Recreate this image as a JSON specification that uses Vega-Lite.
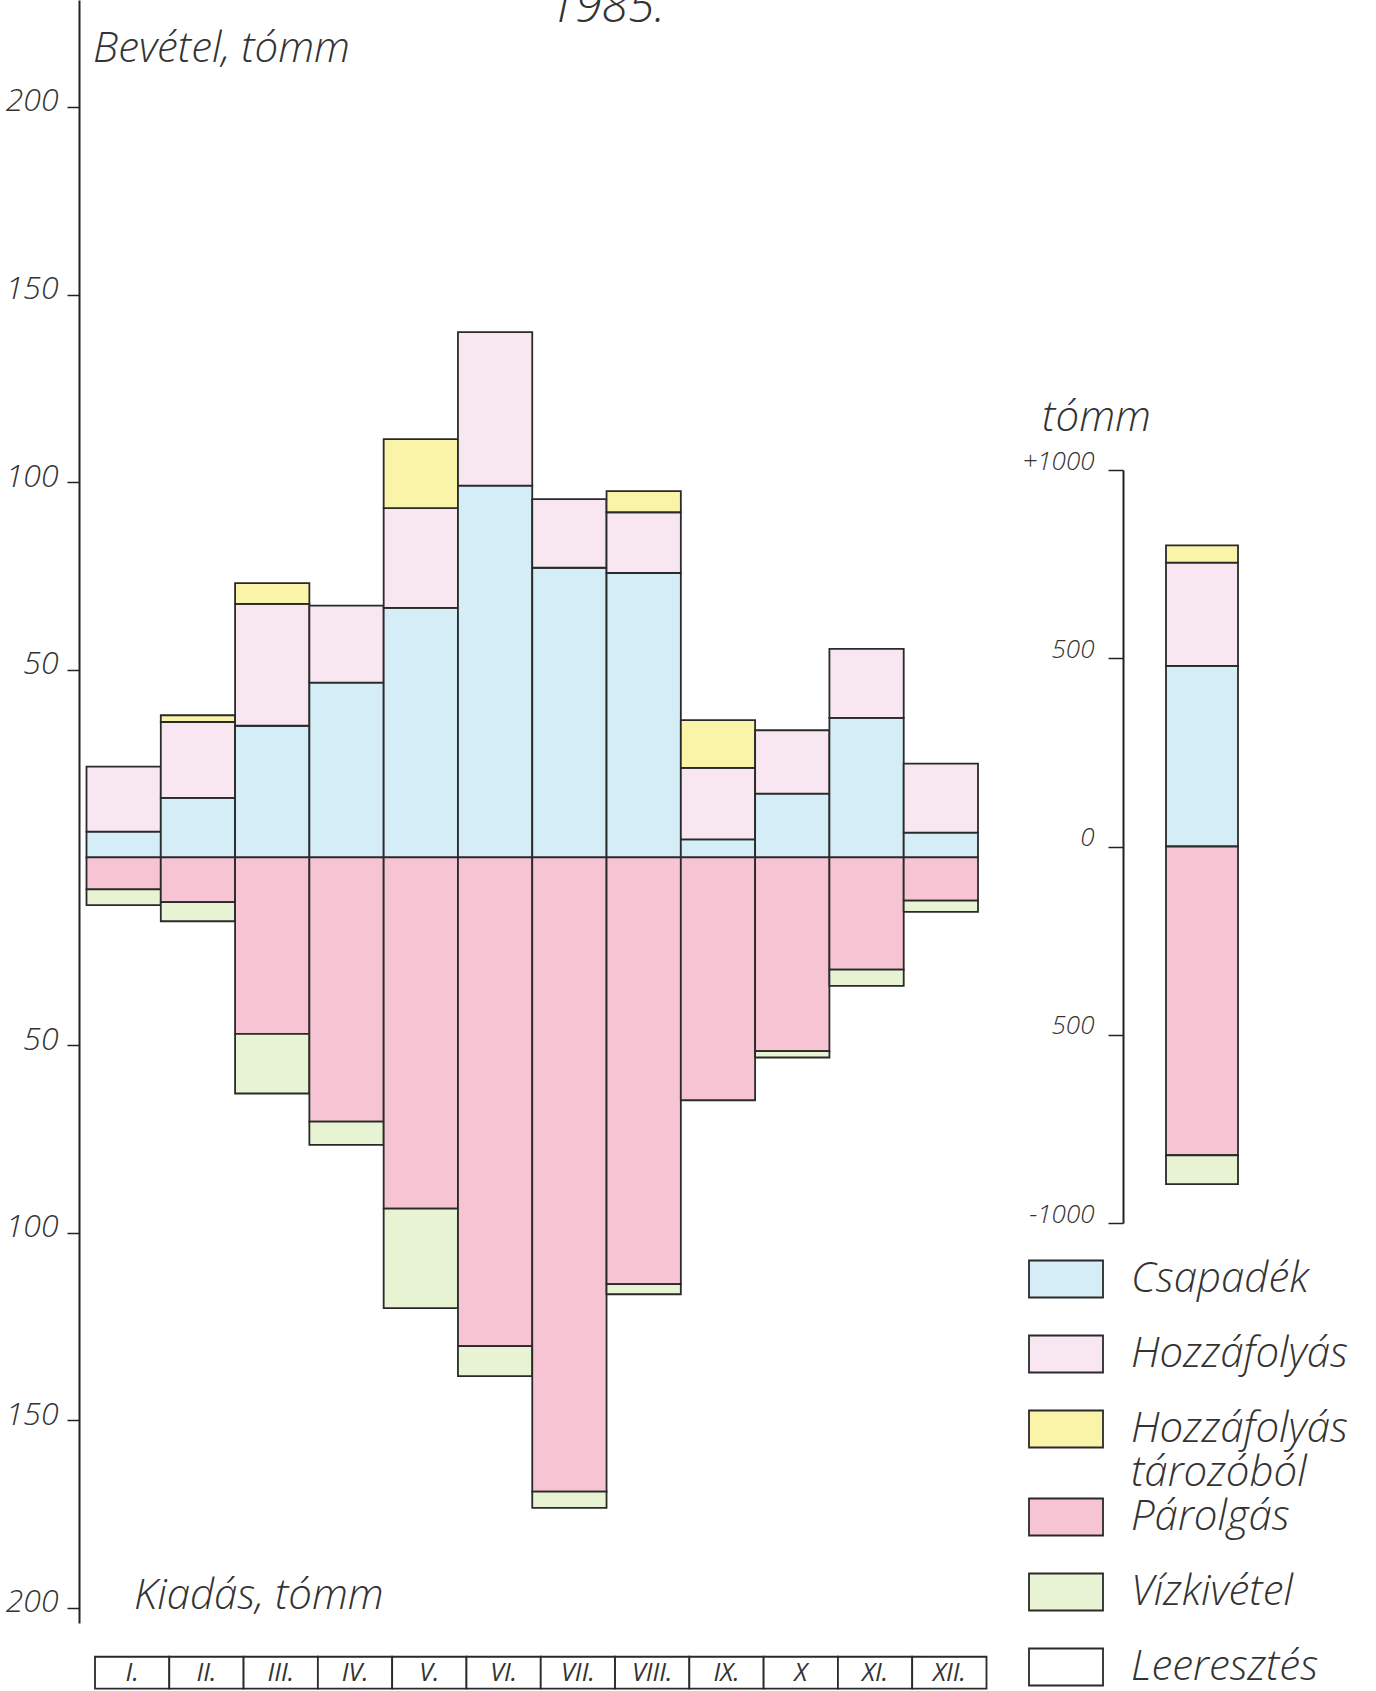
{
  "$schema": "https://vega.github.io/schema/vega-lite/v6.json",
  "width": 1297,
  "height": 1691,
  "autosize": {"type": "none"},
  "padding": {"left": 79, "top": 0, "right": 0, "bottom": 0},
  "background": "white",
  "config": {
    "view": {"stroke": null},
    "font": "Open Sans",
    "axis": {"grid": false},
    "legend": {
      "symbolType": "M-7.4,-3.7H7.4V3.7H-7.4ZM0,9.6",
      "symbolSize": 100,
      "symbolStrokeColor": "#2a2a2a",
      "symbolStrokeWidth": 1.8,
      "symbolOpacity": 1,
      "labelFont": "Open Sans",
      "labelFontSize": 42,
      "labelFontStyle": "italic",
      "labelFontWeight": 300,
      "labelColor": "#333333",
      "labelOffset": 44,
      "labelLimit": 0,
      "labelBaseline": "middle",
      "rowPadding": 0,
      "padding": 0
    }
  },
  "layer": [
    {
      "layer": [
        {
          "data": {
            "values": [
              {"m": "I", "cat": "Csapadék", "v": 6.9},
              {"m": "I", "cat": "Hozzáfolyás", "v": 17.3},
              {"m": "I", "cat": "Párolgás", "v": -8.5},
              {"m": "I", "cat": "Vízkivétel", "v": -4.2},
              {"m": "II", "cat": "Csapadék", "v": 15.9},
              {"m": "II", "cat": "Hozzáfolyás", "v": 20.2},
              {"m": "II", "cat": "Hozzáfolyás tározóból", "v": 1.8},
              {"m": "II", "cat": "Párolgás", "v": -11.9},
              {"m": "II", "cat": "Vízkivétel", "v": -5.1},
              {"m": "III", "cat": "Csapadék", "v": 35.1},
              {"m": "III", "cat": "Hozzáfolyás", "v": 32.5},
              {"m": "III", "cat": "Hozzáfolyás tározóból", "v": 5.5},
              {"m": "III", "cat": "Párolgás", "v": -47.0},
              {"m": "III", "cat": "Vízkivétel", "v": -15.9},
              {"m": "IV", "cat": "Csapadék", "v": 46.6},
              {"m": "IV", "cat": "Hozzáfolyás", "v": 20.5},
              {"m": "IV", "cat": "Párolgás", "v": -70.4},
              {"m": "IV", "cat": "Vízkivétel", "v": -6.2},
              {"m": "V", "cat": "Csapadék", "v": 66.5},
              {"m": "V", "cat": "Hozzáfolyás", "v": 26.6},
              {"m": "V", "cat": "Hozzáfolyás tározóból", "v": 18.4},
              {"m": "V", "cat": "Párolgás", "v": -93.6},
              {"m": "V", "cat": "Vízkivétel", "v": -26.5},
              {"m": "VI", "cat": "Csapadék", "v": 99.1},
              {"m": "VI", "cat": "Hozzáfolyás", "v": 40.9},
              {"m": "VI", "cat": "Párolgás", "v": -130.2},
              {"m": "VI", "cat": "Vízkivétel", "v": -8.0},
              {"m": "VII", "cat": "Csapadék", "v": 77.2},
              {"m": "VII", "cat": "Hozzáfolyás", "v": 18.3},
              {"m": "VII", "cat": "Párolgás", "v": -169.0},
              {"m": "VII", "cat": "Vízkivétel", "v": -4.3},
              {"m": "VIII", "cat": "Csapadék", "v": 75.8},
              {"m": "VIII", "cat": "Hozzáfolyás", "v": 16.2},
              {"m": "VIII", "cat": "Hozzáfolyás tározóból", "v": 5.6},
              {"m": "VIII", "cat": "Párolgás", "v": -113.7},
              {"m": "VIII", "cat": "Vízkivétel", "v": -2.7},
              {"m": "IX", "cat": "Csapadék", "v": 4.8},
              {"m": "IX", "cat": "Hozzáfolyás", "v": 19.1},
              {"m": "IX", "cat": "Hozzáfolyás tározóból", "v": 12.7},
              {"m": "IX", "cat": "Párolgás", "v": -64.7},
              {"m": "X", "cat": "Csapadék", "v": 17.0},
              {"m": "X", "cat": "Hozzáfolyás", "v": 16.9},
              {"m": "X", "cat": "Párolgás", "v": -51.6},
              {"m": "X", "cat": "Vízkivétel", "v": -1.7},
              {"m": "XI", "cat": "Csapadék", "v": 37.2},
              {"m": "XI", "cat": "Hozzáfolyás", "v": 18.4},
              {"m": "XI", "cat": "Párolgás", "v": -29.9},
              {"m": "XI", "cat": "Vízkivétel", "v": -4.3},
              {"m": "XII", "cat": "Csapadék", "v": 6.6},
              {"m": "XII", "cat": "Hozzáfolyás", "v": 18.4},
              {"m": "XII", "cat": "Párolgás", "v": -11.5},
              {"m": "XII", "cat": "Vízkivétel", "v": -3.0}
            ]
          },
          "mark": {"type": "bar", "stroke": "#2a2a2a", "strokeWidth": 1.8},
          "encoding": {
            "x": {
              "field": "m", "type": "nominal",
              "scale": {"domain": ["I","II","III","IV","V","VI","VII","VIII","IX","X","XI","XII"], "range": [7.5, 899], "paddingInner": 0, "paddingOuter": 0},
              "axis": null
            },
            "y": {
              "field": "v", "type": "quantitative", "stack": "zero",
              "scale": {"domain": [-204, 228.5], "range": [1623, 0], "nice": false, "zero": false},
              "axis": {
                "orient": "left",
                "values": [-200, -150, -100, -50, 50, 100, 150, 200],
                "labelExpr": "format(abs(datum.value), 'd')",
                "title": null,
                "domainColor": "#222222",
                "domainWidth": 2,
                "tickColor": "#222222",
                "tickWidth": 1.5,
                "tickSize": 12,
                "labelPadding": 9,
                "labelFont": "Open Sans",
                "labelFontSize": 32,
                "labelFontStyle": "italic",
                "labelFontWeight": 300,
                "labelColor": "#333333",
                "labelOffset": -6,
                "labelFlush": false,
                "labelOverlap": false,
                "grid": false
              }
            },
            "order": {"field": "cat", "type": "ordinal", "sort": "ascending"},
            "color": {
              "field": "cat", "type": "nominal",
              "sort": ["Csapadék", "Hozzáfolyás", "Hozzáfolyás tározóból", "Párolgás", "Vízkivétel", "Leeresztés"],
              "scale": {
                "domain": ["Csapadék", "Hozzáfolyás", "Hozzáfolyás tározóból", "Párolgás", "Vízkivétel", "Leeresztés"],
                "range": ["#d4edf6", "#f8e6f1", "#f9f4a8", "#f6c4d2", "#e7f3d3", "#ffffff"]
              },
              "legend": {
                "orient": "none",
                "legendX": 966,
                "legendY": 1258,
                "direction": "vertical",
                "title": null,
                "labelExpr": "datum.label == 'Hozzáfolyás tározóból' ? ['Hozzáfolyás', 'tározóból'] : datum.label"
              }
            }
          }
        },
        {
          "data": {
            "values": [
              {"m": "I", "lab": "I."}, {"m": "II", "lab": "II."}, {"m": "III", "lab": "III."},
              {"m": "IV", "lab": "IV."}, {"m": "V", "lab": "V."}, {"m": "VI", "lab": "VI."},
              {"m": "VII", "lab": "VII."}, {"m": "VIII", "lab": "VIII."}, {"m": "IX", "lab": "IX."},
              {"m": "X", "lab": "X"}, {"m": "XI", "lab": "XI."}, {"m": "XII", "lab": "XII."}
            ]
          },
          "layer": [
            {
              "mark": {"type": "rect", "fill": "white", "stroke": "#2a2a2a", "strokeWidth": 1.8, "xOffset": 8.5},
              "encoding": {
                "x": {
                  "field": "m", "type": "nominal",
                  "scale": {"domain": ["I","II","III","IV","V","VI","VII","VIII","IX","X","XI","XII"], "range": [7.5, 899], "paddingInner": 0, "paddingOuter": 0},
                  "axis": null
                },
                "y": {"datum": -213, "type": "quantitative", "scale": {"domain": [-204, 228.5], "range": [1623, 0], "nice": false, "zero": false}},
                "y2": {"datum": -221.5}
              }
            },
            {
              "mark": {"type": "text", "xOffset": 8.5, "font": "Open Sans", "fontSize": 25, "fontStyle": "italic", "fontWeight": 400, "color": "#333333", "baseline": "middle", "align": "center"},
              "encoding": {
                "x": {
                  "field": "m", "type": "nominal",
                  "scale": {"domain": ["I","II","III","IV","V","VI","VII","VIII","IX","X","XI","XII"], "range": [7.5, 899], "paddingInner": 0, "paddingOuter": 0},
                  "axis": null
                },
                "y": {"datum": -217.3, "type": "quantitative", "scale": {"domain": [-204, 228.5], "range": [1623, 0], "nice": false, "zero": false}},
                "text": {"field": "lab"}
              }
            }
          ]
        },
        {
          "data": {"values": [{}]},
          "mark": {"type": "text", "text": "Bevétel, tómm", "align": "left", "baseline": "alphabetic", "dx": -30.6, "font": "Open Sans", "fontSize": 42, "fontStyle": "italic", "fontWeight": 300, "color": "#333333"},
          "encoding": {
            "x": {"datum": "I", "type": "nominal", "scale": {"domain": ["I","II","III","IV","V","VI","VII","VIII","IX","X","XI","XII"], "range": [7.5, 899], "paddingInner": 0, "paddingOuter": 0}, "axis": null},
            "y": {"datum": 212, "type": "quantitative", "scale": {"domain": [-204, 228.5], "range": [1623, 0], "nice": false, "zero": false}}
          }
        },
        {
          "data": {"values": [{}]},
          "mark": {"type": "text", "text": "Kiadás, tómm", "align": "left", "baseline": "alphabetic", "dx": 10.4, "font": "Open Sans", "fontSize": 42, "fontStyle": "italic", "fontWeight": 300, "color": "#333333"},
          "encoding": {
            "x": {"datum": "I", "type": "nominal", "scale": {"domain": ["I","II","III","IV","V","VI","VII","VIII","IX","X","XI","XII"], "range": [7.5, 899], "paddingInner": 0, "paddingOuter": 0}, "axis": null},
            "y": {"datum": -200.3, "type": "quantitative", "scale": {"domain": [-204, 228.5], "range": [1623, 0], "nice": false, "zero": false}}
          }
        },
        {
          "data": {"values": [{}]},
          "mark": {"type": "text", "text": "1985.", "align": "center", "baseline": "alphabetic", "dx": 37.6, "font": "Open Sans", "fontSize": 48, "fontStyle": "italic", "fontWeight": 300, "color": "#333333"},
          "encoding": {
            "x": {"datum": "VII", "type": "nominal", "scale": {"domain": ["I","II","III","IV","V","VI","VII","VIII","IX","X","XI","XII"], "range": [7.5, 899], "paddingInner": 0, "paddingOuter": 0}, "axis": null},
            "y": {"datum": 222.6, "type": "quantitative", "scale": {"domain": [-204, 228.5], "range": [1623, 0], "nice": false, "zero": false}}
          }
        }
      ]
    },
    {
      "data": {
        "values": [
          {"yr": "1985", "cat": "Csapadék", "v": 480},
          {"yr": "1985", "cat": "Hozzáfolyás", "v": 274},
          {"yr": "1985", "cat": "Hozzáfolyás tározóból", "v": 46},
          {"yr": "1985", "cat": "Párolgás", "v": -820},
          {"yr": "1985", "cat": "Vízkivétel", "v": -77}
        ]
      },
      "mark": {"type": "bar", "stroke": "#2a2a2a", "strokeWidth": 1.8},
      "encoding": {
        "x": {
          "field": "yr", "type": "nominal",
          "scale": {"domain": ["1985"], "range": [1087, 1159], "paddingInner": 0, "paddingOuter": 0},
          "axis": null
        },
        "y": {
          "field": "v", "type": "quantitative", "stack": "zero",
          "scale": {"domain": [-1000, 1000], "range": [1223, 470], "nice": false, "zero": false},
          "axis": {
            "orient": "left",
            "offset": -1044,
            "values": [-1000, -500, 0, 500, 1000],
            "labelExpr": "datum.value == 1000 ? '+1000' : (datum.value == -1000 ? '-1000' : format(abs(datum.value), 'd'))",
            "title": "tómm",
            "titleAngle": 0,
            "titleAlign": "center",
            "titleBaseline": "alphabetic",
            "titleX": -27,
            "titleY": 430,
            "titleFont": "Open Sans",
            "titleFontSize": 42,
            "titleFontStyle": "italic",
            "titleFontWeight": 300,
            "titleColor": "#333333",
            "domainColor": "#222222",
            "domainWidth": 2,
            "tickColor": "#222222",
            "tickWidth": 1.5,
            "tickSize": 15,
            "labelPadding": 14,
            "labelFont": "Open Sans",
            "labelFontSize": 26,
            "labelFontStyle": "italic",
            "labelFontWeight": 300,
            "labelColor": "#333333",
            "labelOffset": -9,
            "labelFlush": false,
            "labelOverlap": false,
            "grid": false
          }
        },
        "order": {"field": "cat", "type": "ordinal", "sort": "ascending"},
        "color": {
          "field": "cat", "type": "nominal",
          "sort": ["Csapadék", "Hozzáfolyás", "Hozzáfolyás tározóból", "Párolgás", "Vízkivétel", "Leeresztés"],
          "scale": {
            "domain": ["Csapadék", "Hozzáfolyás", "Hozzáfolyás tározóból", "Párolgás", "Vízkivétel", "Leeresztés"],
            "range": ["#d4edf6", "#f8e6f1", "#f9f4a8", "#f6c4d2", "#e7f3d3", "#ffffff"]
          },
          "legend": {
            "orient": "none",
            "legendX": 966,
            "legendY": 1258,
            "direction": "vertical",
            "title": null,
            "labelExpr": "datum.label == 'Hozzáfolyás tározóból' ? ['Hozzáfolyás', 'tározóból'] : datum.label"
          }
        }
      }
    }
  ],
  "resolve": {
    "scale": {"x": "independent", "y": "independent"},
    "axis": {"x": "independent", "y": "independent"}
  }
}
